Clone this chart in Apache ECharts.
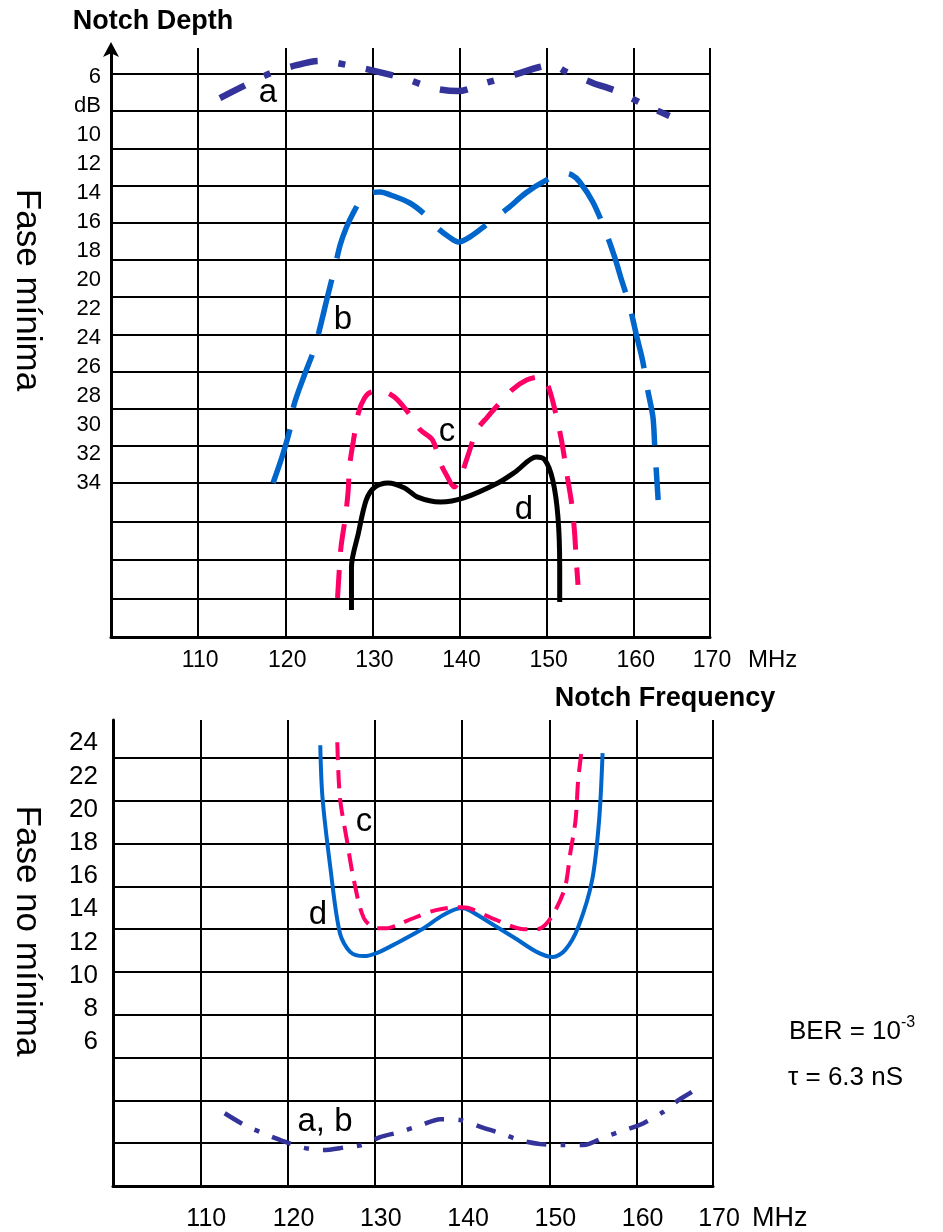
<!DOCTYPE html>
<html>
<head>
<meta charset="utf-8">
<script src="https://cdn.jsdelivr.net/npm/echarts@6/dist/echarts.min.js"></script>
<style>html,body{margin:0;padding:0;background:#fff}#chart{width:943px;height:1232px}</style>
</head>
<body>
<div id="chart"></div>
<script>
// ---------- Tick labels ----------
const freqTicks = [110, 120, 130, 140, 150, 160, 170];
const topDepthTicks = [6, 8, 10, 12, 14, 16, 18, 20, 22, 24, 26, 28, 30, 32, 34];
const topDepthUnit = 'dB';          // shown in place of 8
const botDepthTicks = [6, 8, 10, 12, 14, 16, 18, 20, 22, 24];

// ---------- Top panel: Fase mínima (notch depth, dB) ----------
const aTopFreq  = [112.5,115.7,118.4,121.4,123.9,127.7,130.8,133.9,136.9,139.8,143.0,146.2,149.2,150.6,152.3,155.3,158.0,161.3,164.1];
const aTopDepth = [7.45,6.48,5.72,5.17,4.9,5.24,5.66,6.14,6.76,6.97,6.41,5.86,5.31,5.17,5.66,6.41,6.97,7.93,8.69];

const bTopFreq  = [118.6,119.7,120.6,121.0,122.2,123.4,124.9,125.7,126.3,127.0,127.8,128.7,129.8,130.9,132.1,134.3,136.1,137.6,138.8,139.9,141.2,143.2,145.6,147.6,150.0,151.8,152.9,153.8,155.3,156.7,157.8,158.6,159.5,160.3,161.0,161.6,162.2,162.4,162.8];
const bTopDepth = [34.0,32.07,30.14,28.62,26.55,24.62,21.03,19.1,17.59,16.4,15.38,14.48,14.0,13.93,14.14,14.69,15.52,16.48,17.03,17.38,17.03,16.14,15.03,14.0,13.1,12.62,12.76,13.24,14.62,16.55,18.41,20.0,21.72,23.79,25.52,27.59,29.45,31.38,35.17];

const cTopFreq  = [126.0,126.2,126.4,126.9,127.2,127.4,127.8,128.4,129.1,129.9,131.0,132.0,132.9,134.6,135.5,136.9,137.8,138.5,139.4,140.0,141.1,142.0,143.2,144.2,146.0,147.7,149.2,150.0,150.6,151.0,151.7,152.4,152.9,153.2,153.4,153.6];
const cTopDepth = [41.93,40.0,38.41,36.34,34.69,32.76,31.17,29.17,28.14,27.72,27.66,27.86,28.28,29.52,30.34,31.03,32.62,33.45,34.28,33.79,31.86,30.34,29.45,28.76,27.59,26.9,26.69,27.1,28.14,29.1,31.03,33.66,35.52,37.38,39.31,41.03];

const dTopFreq  = [127.6,127.6,128.4,129.3,130.3,131.8,133.7,135.2,137.8,140.5,144.4,146.4,148.8,149.8,150.7,151.3,151.5,151.5];
const dTopDepth = [42.76,39.79,37.45,35.17,34.28,34.0,34.34,34.97,35.31,35.03,34.0,33.24,32.21,32.41,33.79,36.34,39.79,42.2];

// ---------- Bottom panel: Fase no mínima ----------
const dBotFreq  = [123.75,124.0,124.9,126.0,127.2,128.75,130.2,132.5,135.6,137.8,139.9,140.8,143.1,145.9,148.6,150.4,151.8,153.3,154.9,155.7,156.1];
const dBotDepth = [23.88,20.75,16.53,12.56,11.42,11.18,11.36,11.96,12.86,13.64,14.07,13.95,13.22,12.32,11.42,11.12,11.54,12.92,15.75,19.36,23.4];

const cBotFreq  = [125.7,126.0,126.8,127.6,128.75,130.2,131.4,132.5,134.4,137.0,139.7,140.8,144.0,147.1,148.6,149.5,150.7,151.8,152.4,153.0,153.3,153.7];
const cBotDepth = [24.06,20.75,18.16,15.75,13.46,12.86,12.86,13.04,13.46,13.95,14.13,14.07,13.34,12.8,12.8,13.04,13.95,15.33,17.38,19.36,21.77,23.58];

const abBotFreq  = [112.8,115.1,117.2,119.2,121.5,124.0,126.8,128.5,130.6,132.8,135.3,137.5,139.9,142.2,144.4,146.6,149.0,151.5,153.9,156.3,158.6,160.8,163.0,164.8,166.1,167.2];
const abBotDepth = [1.72,1.0,0.52,0.1,-0.32,-0.5,-0.32,-0.2,0.28,0.58,1.0,1.36,1.3,0.88,0.52,0.1,-0.14,-0.2,-0.2,0.28,0.7,1.12,1.78,2.51,2.93,3.35];

// ---------- helpers ----------
const FONT = "'Liberation Sans', Arial, sans-serif";
const zip = (xs, ys) => xs.map((x, i) => [x, ys[i]]);
const H = 1232, W = 943;
const FMIN = 100, FMAX = 168.75;

function freqLabel(v) {
  if (v > FMAX - 1) return String(freqTicks[freqTicks.length - 1]);
  const i = Math.round((v - freqTicks[0]) / 10);
  return (i >= 0 && i < freqTicks.length - 1 && Math.abs(v - freqTicks[i]) < 0.01) ? String(freqTicks[i]) : '';
}
function topDepthLabel(v) {
  if (topDepthTicks.indexOf(v) < 0) return '';
  return v === 8 ? topDepthUnit : String(v);
}
function botDepthLabel(v) {
  return botDepthTicks.indexOf(v) < 0 ? '' : String(v);
}

const gridLine = { show: true, lineStyle: { color: '#000', width: 2 } };

const TL = 111, TR = 710;     // top panel plot x-range
const BL = 113, BR = 713;     // bottom panel plot x-range

const grids = [
  // top panel
  { left: TL, right: W - TR, top: 48, bottom: H - 637 },          // 0 verticals + x axis
  { left: TL, right: W - TR, top: 74, bottom: H - 483 },          // 1 horizontals upper
  { left: TL, right: W - TR, top: 483, bottom: H - 637 },         // 2 horizontals lower
  { left: TL, right: W - TR, top: 48, bottom: H - 628 },          // 3 data (4..44)
  // bottom panel
  { left: BL, right: W - BR, top: 720, bottom: H - 1186 },        // 4 verticals + x axis
  { left: BL, right: W - BR, top: 758, bottom: H - 1186 },        // 5 horizontals
  { left: BL, right: W - BR, top: 710, bottom: H - 1175 }         // 6 data (-2..26)
];

function hiddenX(g, min, max) { return { gridIndex: g, type: 'value', min, max, show: false }; }

const xAxes = [
  { gridIndex: 0, type: 'value', min: FMIN, max: FMAX, interval: 10,
    axisLine: { show: true, lineStyle: { color: '#000', width: 3 } },
    axisTick: { show: false },
    splitLine: gridLine,
    axisLabel: { formatter: freqLabel, fontFamily: FONT, fontSize: 23, color: '#000', margin: 12, padding: [0, 0, 0, 4], showMaxLabel: true, showMinLabel: true } },
  hiddenX(1, 0, 1),
  hiddenX(2, 0, 1),
  hiddenX(3, FMIN, FMAX),
  { gridIndex: 4, type: 'value', min: FMIN, max: FMAX, interval: 10,
    axisLine: { show: true, lineStyle: { color: '#000', width: 3 } },
    axisTick: { show: false },
    splitLine: gridLine,
    axisLabel: { formatter: freqLabel, fontFamily: FONT, fontSize: 25, color: '#000', margin: 21, padding: [0, 0, 0, 12], showMaxLabel: true, showMinLabel: true } },
  { gridIndex: 5, type: 'value', min: 0, max: 1, show: false },
  hiddenX(6, FMIN, FMAX)
];

const yAxes = [
  { gridIndex: 0, type: 'value', min: 0, max: 1,
    axisLine: { show: true, symbol: ['none', 'arrow'], symbolSize: [12, 15], symbolOffset: [0, 6], lineStyle: { color: '#000', width: 3 } },
    axisTick: { show: false }, axisLabel: { show: false }, splitLine: { show: false } },
  { gridIndex: 1, type: 'value', min: 0, max: 11, interval: 1,
    axisLine: { show: false }, axisTick: { show: false }, axisLabel: { show: false }, splitLine: gridLine },
  { gridIndex: 2, type: 'value', min: 0, max: 4, interval: 1,
    axisLine: { show: false }, axisTick: { show: false }, axisLabel: { show: false }, splitLine: gridLine },
  { gridIndex: 3, type: 'value', inverse: true, min: 4, max: 44, interval: 2,
    axisLine: { show: false }, axisTick: { show: false }, splitLine: { show: false },
    axisLabel: { formatter: topDepthLabel, fontFamily: FONT, fontSize: 22, color: '#000', margin: 10 } },
  { gridIndex: 4, type: 'value', min: 0, max: 1,
    axisLine: { show: true, lineStyle: { color: '#000', width: 3 } },
    axisTick: { show: false }, axisLabel: { show: false }, splitLine: { show: false } },
  { gridIndex: 5, type: 'value', min: 0, max: 10, interval: 1,
    axisLine: { show: false }, axisTick: { show: false }, axisLabel: { show: false }, splitLine: gridLine },
  { gridIndex: 6, type: 'value', min: -2, max: 26, interval: 2,
    axisLine: { show: false }, axisTick: { show: false }, splitLine: { show: false },
    axisLabel: { formatter: botDepthLabel, fontFamily: FONT, fontSize: 26, color: '#000', margin: 15 } }
];

function line(name, xs, ys, axis, color, width, dash) {
  return {
    name, type: 'line', xAxisIndex: axis, yAxisIndex: axis,
    data: zip(xs, ys), showSymbol: false, smooth: 0.3, clip: false,
    lineStyle: { color, width, type: dash || 'solid', cap: 'butt' },
    z: 5
  };
}

const series = [
  line('a', aTopFreq, aTopDepth, 3, '#333399', 6.5, [28, 21, 7, 21]),
  line('b', bTopFreq, bTopDepth, 3, '#0066CC', 5.5, [56, 22]),
  line('c', cTopFreq, cTopDepth, 3, '#FF0066', 5, [28, 18]),
  line('d', dTopFreq, dTopDepth, 3, '#000000', 5, 'solid'),
  line('d ', dBotFreq, dBotDepth, 6, '#0066CC', 4, 'solid'),
  line('c ', cBotFreq, cBotDepth, 6, '#FF0066', 4, [18, 10]),
  line('a, b', abBotFreq, abBotDepth, 6, '#333399', 4.5, [20, 14, 5, 14])
];

function txt(text, x, y, size, opts) {
  return Object.assign({
    type: 'text', x, y, z: 10,
    style: Object.assign({ text, fontFamily: FONT, fontSize: size, fill: '#000', align: 'center', verticalAlign: 'middle' }, (opts && opts.style) || {})
  }, opts && opts.el || {});
}

const graphics = [
  txt('Notch Depth', 153, 22, 27, { style: { fontWeight: 'bold' } }),
  txt('Notch Frequency', 665, 699, 27, { style: { fontWeight: 'bold' } }),
  txt('MHz', 748, 660, 24, { style: { align: 'left' } }),
  txt('MHz', 752, 1219, 27, { style: { align: 'left' } }),
  txt('Fase mínima', 27, 290, 35, { el: { rotation: -Math.PI / 2 } }),
  txt('Fase no mínima', 27, 931, 35, { el: { rotation: -Math.PI / 2 } }),
  { type: 'text', x: 789, y: 1030, z: 10,
    style: { text: '{m|BER = 10}{s|-3}', align: 'left', verticalAlign: 'middle',
      rich: { m: { fontFamily: FONT, fontSize: 26, fill: '#000', lineHeight: 30, verticalAlign: 'bottom' },
              s: { fontFamily: FONT, fontSize: 16, fill: '#000', lineHeight: 30, verticalAlign: 'top' } } } },
  txt('τ = 6.3 nS', 788, 1078, 26, { style: { align: 'left' } }),
  // curve labels
  txt('a', 268, 93, 33),
  txt('b', 343, 320, 33),
  txt('c', 447, 432, 33),
  txt('d', 524, 510, 33),
  txt('c', 364, 822, 33),
  txt('d', 318, 915, 33),
  txt('a, b', 325, 1122, 33)
];

const chart = echarts.init(document.getElementById('chart'), null, { renderer: 'canvas', width: W, height: H });
chart.setOption({
  animation: false,
  backgroundColor: '#fff',
  grid: grids,
  xAxis: xAxes,
  yAxis: yAxes,
  series,
  graphic: graphics
});
</script>
</body>
</html>
